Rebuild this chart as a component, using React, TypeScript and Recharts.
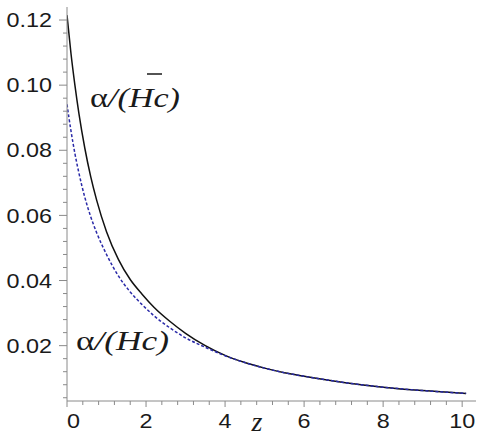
import React from "react";
import { LineChart, Line, XAxis, YAxis, Customized } from "recharts";

const zValues = [0, 0.1, 0.2, 0.3, 0.45, 0.6, 0.75, 1.0, 1.3, 1.6, 1.9, 2.2, 2.6, 3.0, 3.5, 4.0, 4.5, 5.0, 5.5, 6.0, 7.0, 8.0, 9.0, 10.1];
const alphaHbar = [0.1215, 0.1098, 0.1, 0.0914, 0.0807, 0.0719, 0.0647, 0.055, 0.0465, 0.0403, 0.0358, 0.0318, 0.0275, 0.0238, 0.02, 0.017, 0.0148, 0.0131, 0.0117, 0.0106, 0.0087, 0.00725, 0.0062, 0.00533];
const alphaH = [0.0941, 0.086, 0.079, 0.0731, 0.0656, 0.0596, 0.0547, 0.048, 0.0414, 0.0365, 0.0326, 0.0292, 0.0255, 0.0224, 0.0195, 0.0169, 0.0148, 0.0131, 0.0117, 0.0106, 0.0087, 0.00725, 0.0062, 0.00533];

const xMajorTicks = [0, 2, 4, 6, 8, 10];
const xMinorTicks = [0.4, 0.8, 1.2, 1.6, 2.4, 2.8, 3.2, 3.6, 4.4, 4.8, 5.2, 5.6, 6.4, 6.8, 7.2, 7.6, 8.4, 8.8, 9.2, 9.6];
const xTickLabels = ["0", "2", "4", "6", "8", "10"];
const yMajorTicks = [0.02, 0.04, 0.06, 0.08, 0.1, 0.12];
const yMinorTicks = [0.004, 0.008, 0.012, 0.016, 0.024, 0.028, 0.032, 0.036, 0.044, 0.048, 0.052, 0.056, 0.064, 0.068, 0.072, 0.076, 0.084, 0.088, 0.092, 0.096, 0.104, 0.108, 0.112, 0.116];
const yTickLabels = ["0.02", "0.04", "0.06", "0.08", "0.10", "0.12"];

const data = zValues.map((z, i) => ({ z, hbar: alphaHbar[i], h: alphaH[i] }));

const AXIS_COLOR = "#8a8a8a";
const TEXT_COLOR = "#1a1a1a";

const majorIndex = (list: number[], v: number) => list.findIndex((m) => Math.abs(m - v) < 1e-9);

const YTick = (props: any) => {
  const { x, y, payload } = props;
  const idx = majorIndex(yMajorTicks, payload.value);
  const major = idx >= 0;
  return (
    <g>
      <line x1={x - (major ? 8 : 4)} x2={x} y1={y} y2={y} stroke={AXIS_COLOR} strokeWidth={1} />
      {major && (
        <g transform={`translate(${x - 15},${y}) scale(1.17,1)`}>
          <text x={0} y={0} dy="0.36em" textAnchor="end" fontFamily="'Liberation Sans', Arial, sans-serif" fontSize={20} fill={TEXT_COLOR}>
            {yTickLabels[idx]}
          </text>
        </g>
      )}
    </g>
  );
};

const XTick = (props: any) => {
  const { x, y, payload } = props;
  const idx = majorIndex(xMajorTicks, payload.value);
  const major = idx >= 0;
  const shift = payload.value === 0 ? 6.5 : 0;
  return (
    <g>
      <line x1={x} x2={x} y1={y} y2={y + (major ? 6 : 4)} stroke={AXIS_COLOR} strokeWidth={1} />
      {major && (
        <g transform={`translate(${x + shift},${y + 27}) scale(1.17,1)`}>
          <text x={0} y={0} textAnchor="middle" fontFamily="'Liberation Sans', Arial, sans-serif" fontSize={20} fill={TEXT_COLOR}>
            {xTickLabels[idx]}
          </text>
        </g>
      )}
    </g>
  );
};

const Labels = () => (
  <g fontFamily="'Liberation Serif', 'Times New Roman', serif" fill={TEXT_COLOR}>
    <text x={90} y={107} fontSize={27} fontStyle="italic" textLength={90} lengthAdjust="spacingAndGlyphs">
      <tspan fontStyle="normal">α</tspan>/(Hc)
    </text>
    <line x1={147} x2={162} y1={74} y2={74} stroke={TEXT_COLOR} strokeWidth={1.5} />
    <text x={76} y={350} fontSize={27} fontStyle="italic" textLength={93} lengthAdjust="spacingAndGlyphs">
      <tspan fontStyle="normal">α</tspan>/(Hc)
    </text>
    <text x={257} y={431} fontSize={28} fontStyle="italic" textAnchor="middle">
      z
    </text>
  </g>
);

export default function App() {
  return (
    <div style={{ position: "absolute", left: 0, top: 0 }}>
      <LineChart width={484} height={438} data={data} margin={{ top: 7, right: 8, bottom: 0, left: 0 }}>
        <XAxis
          dataKey="z"
          type="number"
          domain={[0, 10.35]}
          ticks={[...xMajorTicks, ...xMinorTicks].sort((a, b) => a - b)}
          interval={0}
          height={37}
          tickSize={0}
          tickMargin={0}
          tickLine={false}
          axisLine={{ stroke: AXIS_COLOR, strokeWidth: 1 }}
          tick={<XTick />}
          allowDataOverflow
        />
        <YAxis
          type="number"
          domain={[0.003, 0.124]}
          ticks={[...yMajorTicks, ...yMinorTicks].sort((a, b) => a - b)}
          interval={0}
          width={67}
          tickSize={0}
          tickMargin={0}
          tickLine={false}
          axisLine={{ stroke: AXIS_COLOR, strokeWidth: 1 }}
          tick={<YTick />}
          allowDataOverflow
        />
        <Line type="monotone" dataKey="hbar" stroke="#111111" strokeWidth={1.5} dot={false} isAnimationActive={false} />
        <Line type="monotone" dataKey="h" stroke="#2a2aa8" strokeWidth={1.5} strokeDasharray="3 2" dot={false} isAnimationActive={false} />
        <Customized component={Labels} />
      </LineChart>
    </div>
  );
}
